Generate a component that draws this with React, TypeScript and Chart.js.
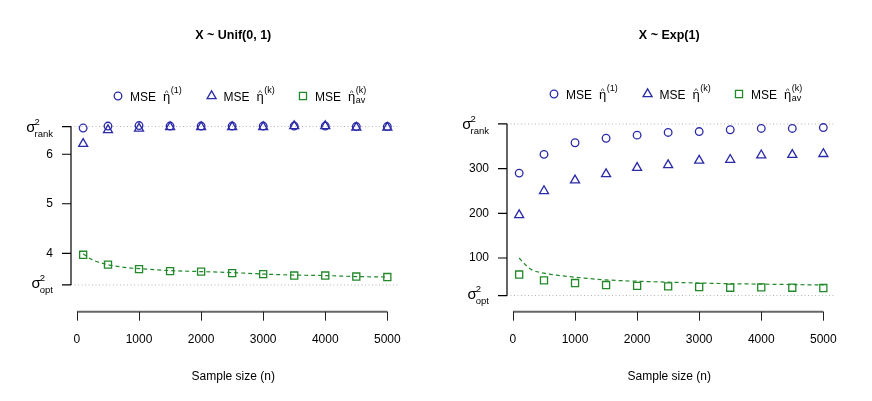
import { useEffect, useRef } from 'react';
import { Chart, registerables } from 'chart.js';
import { drawPoint } from 'chart.js/helpers';

Chart.register(...registerables);

const FONT = '"Liberation Sans", Arial, Helvetica, sans-serif';
const BLUE = '#2a2aa8';
const GREEN = '#22892a';
const GREY = '#b4b4b4';

const sampleSizes = [100, 500, 1000, 1500, 2000, 2500, 3000, 3500, 4000, 4500, 5000];
const curveSizes = [100, 200, 300, 500, 800, 1000, 1500, 2000, 2500, 3000, 3500, 4000, 4500, 5000];
const xTicks = [0, 1000, 2000, 3000, 4000, 5000];

// X ~ Unif(0, 1)
const unifRank = 6.56;
const unifOpt = 3.36;
const unifYTicks = [4, 5, 6];
const unifMse1 = [6.53, 6.57, 6.58, 6.57, 6.57, 6.57, 6.57, 6.57, 6.57, 6.56, 6.56];
const unifMseK = [6.21, 6.49, 6.52, 6.55, 6.55, 6.55, 6.55, 6.57, 6.57, 6.54, 6.54];
const unifMseAv = [3.97, 3.77, 3.68, 3.64, 3.63, 3.6, 3.58, 3.55, 3.55, 3.53, 3.52];
const unifCurve = [3.99, 3.9, 3.84, 3.77, 3.71, 3.69, 3.65, 3.63, 3.61, 3.58, 3.56, 3.55, 3.53, 3.52];

// X ~ Exp(1)
const expRank = 400;
const expOpt = 16;
const expYTicks = [100, 200, 300];
const expMse1 = [290, 332, 358, 368, 375, 381, 383, 387, 390, 390, 392];
const expMseK = [196, 250, 274, 288, 302, 308, 318, 320, 330, 331, 333];
const expMseAv = [63, 50, 44, 39.5, 37.7, 36.6, 35.1, 33.5, 34.2, 33.5, 32.8];
const expCurve = [100, 85, 74, 66, 60, 57, 51, 48, 46, 44, 42.5, 41.5, 40.5, 39.5];

const legendItems = [
  { style: 'circle', radius: 3.8, color: BLUE, sup: '(1)', sub: '' },
  { style: 'triangle', radius: 5.2, color: BLUE, sup: '(k)', sub: '' },
  { style: 'rect', radius: 5, color: GREEN, sup: '(k)', sub: 'av' },
];
const legendOffsets = [47, 140.6, 232];

const pts = (xs: number[], ys: number[]) => xs.map((x, i) => ({ x, y: ys[i] }));

function drawSigma(ctx: CanvasRenderingContext2D, xRight: number, y: number, sub: string) {
  const dy = sub === 'rank' ? 2 : 0;
  ctx.textAlign = 'left';
  ctx.textBaseline = 'alphabetic';
  ctx.font = `15px ${FONT}`;
  const ws = ctx.measureText('σ').width;
  ctx.font = `9.5px ${FONT}`;
  const wsub = Math.max(ctx.measureText(sub).width, ctx.measureText('2').width);
  const sx = xRight - wsub - ws + 1;
  ctx.font = `15px ${FONT}`;
  ctx.fillText('σ', sx, y + 3.5 + dy);
  ctx.font = `9.5px ${FONT}`;
  ctx.fillText('2', sx + ws - 1, y - 3.5 + dy);
  ctx.fillText(sub, sx + ws - 1, y + 8 + dy);
}

function drawEta(ctx: CanvasRenderingContext2D, x: number, base: number, sup: string, sub: string) {
  ctx.textAlign = 'left';
  ctx.textBaseline = 'alphabetic';
  ctx.font = `13px ${FONT}`;
  ctx.fillText('η', x, base);
  const w = ctx.measureText('η').width;
  ctx.font = `8px ${FONT}`;
  ctx.textAlign = 'center';
  ctx.fillText('^', x + w / 2, base - 6.5);
  ctx.textAlign = 'left';
  ctx.font = `9px ${FONT}`;
  ctx.fillText(sup, x + w + 0.5, base - 8);
  if (sub) ctx.fillText(sub, x + w + 0.5, base + 1.5);
}

const rPlot = {
  id: 'rPlot',
  afterDraw(chart: any, _args: any, o: any) {
    const { ctx, chartArea: ca } = chart;
    const xs = chart.scales.x;
    const ys = chart.scales.y;
    ctx.save();

    // y axis (from sigma_opt to sigma_rank)
    const yTop = ys.getPixelForValue(o.rank);
    const yBot = ys.getPixelForValue(o.opt);
    ctx.strokeStyle = '#000';
    ctx.lineWidth = 1.2;
    ctx.beginPath();
    ctx.moveTo(ca.left, yTop);
    ctx.lineTo(ca.left, yBot);
    for (const v of [o.opt, ...o.yTicks, o.rank]) {
      const p = ys.getPixelForValue(v);
      ctx.moveTo(ca.left, p);
      ctx.lineTo(ca.left - 9, p);
    }
    ctx.stroke();

    ctx.fillStyle = '#000';
    ctx.font = `12px ${FONT}`;
    ctx.textAlign = 'right';
    ctx.textBaseline = 'middle';
    for (const v of o.yTicks) ctx.fillText(String(v), ca.left - 18, ys.getPixelForValue(v));
    drawSigma(ctx, ca.left - 18, yTop, 'rank');
    drawSigma(ctx, ca.left - 18, yBot, 'opt');

    // x axis, set below the plot
    const axY = o.xAxisY;
    const x0 = xs.getPixelForValue(xTicks[0]);
    const x1 = xs.getPixelForValue(xTicks[xTicks.length - 1]);
    ctx.strokeStyle = '#666';
    ctx.lineWidth = 2;
    ctx.beginPath();
    ctx.moveTo(x0, axY);
    ctx.lineTo(x1, axY);
    ctx.stroke();
    ctx.strokeStyle = '#222';
    ctx.lineWidth = 1;
    ctx.beginPath();
    for (const t of xTicks) {
      const p = Math.round(xs.getPixelForValue(t)) + 0.5;
      ctx.moveTo(p, axY);
      ctx.lineTo(p, axY + 9);
    }
    ctx.stroke();
    ctx.font = `12px ${FONT}`;
    ctx.textAlign = 'center';
    ctx.textBaseline = 'middle';
    for (const t of xTicks) ctx.fillText(String(t), xs.getPixelForValue(t), axY + 28);

    const cx = (ca.left + ca.right) / 2;
    ctx.fillText('Sample size (n)', cx - 2, 377);

    ctx.font = `bold 12.5px ${FONT}`;
    ctx.fillText(o.title, cx - 2, 36);

    // legend
    legendItems.forEach((it, i) => {
      const mx = ca.left + legendOffsets[i];
      ctx.strokeStyle = it.color;
      ctx.fillStyle = 'rgba(0,0,0,0)';
      ctx.lineWidth = 1.3;
      drawPoint(ctx, { pointStyle: it.style, radius: it.radius, rotation: 0, borderWidth: 1.3 } as any, mx, o.legendY);
      ctx.fillStyle = '#000';
      ctx.font = `12px ${FONT}`;
      ctx.textAlign = 'left';
      ctx.textBaseline = 'alphabetic';
      ctx.fillText('MSE', mx + 12, o.legendY + 5);
      drawEta(ctx, mx + 45, o.legendY + 5, it.sup, it.sub);
    });

    ctx.restore();
  },
};

type PanelProps = {
  title: string;
  rank: number;
  opt: number;
  yTicks: number[];
  mse1: number[];
  mseK: number[];
  mseAv: number[];
  curve: number[];
  padTop: number;
  padBottom: number;
  legendY: number;
};

function Panel(p: PanelProps) {
  const ref = useRef<HTMLCanvasElement | null>(null);

  useEffect(() => {
    if (!ref.current) return;
    const first = sampleSizes[0];
    const last = sampleSizes[sampleSizes.length - 1];
    const xMin = first - 0.04 * (last - first);
    const xMax = last + 0.04 * (last - first);
    const ext = 0.04 * (p.rank - p.opt);
    const refLine = (v: number) => ({
      data: [{ x: xMin, y: v }, { x: xMax, y: v }],
      showLine: true,
      borderColor: GREY,
      borderWidth: 1,
      borderDash: [1, 2.5],
      pointRadius: 0,
      clip: false,
    });
    const marks = (values: number[], style: string, radius: number, color: string) => ({
      data: pts(sampleSizes, values),
      pointStyle: style,
      pointRadius: radius,
      borderColor: color,
      backgroundColor: 'rgba(0,0,0,0)',
      pointBorderWidth: 1.3,
      clip: false,
    });

    const chart = new Chart(ref.current, {
      type: 'scatter',
      data: {
        datasets: [
          marks(p.mse1, 'circle', 3.8, BLUE),
          marks(p.mseK, 'triangle', 5.2, BLUE),
          marks(p.mseAv, 'rect', 5, GREEN),
          {
            data: pts(curveSizes, p.curve),
            showLine: true,
            borderColor: GREEN,
            borderWidth: 1.2,
            borderDash: [4, 3],
            pointRadius: 0,
            cubicInterpolationMode: 'monotone',
            clip: false,
          },
          refLine(p.rank),
          refLine(p.opt),
        ] as any,
      },
      options: {
        responsive: false,
        animation: false,
        events: [],
        layout: { padding: { left: 71, right: 36.5, top: p.padTop, bottom: p.padBottom } },
        scales: {
          x: { type: 'linear', min: xMin, max: xMax, display: false },
          y: { type: 'linear', min: p.opt - ext, max: p.rank + ext, display: false },
        },
        plugins: {
          legend: { display: false },
          tooltip: { enabled: false },
          rPlot: {
            title: p.title,
            rank: p.rank,
            opt: p.opt,
            yTicks: p.yTicks,
            xAxisY: 311.7,
            legendY: p.legendY,
          },
        } as any,
      },
      plugins: [rPlot],
    });

    return () => {
      chart.destroy();
    };
  }, []);

  return <canvas ref={ref} width={436} height={401} style={{ display: 'block' }} />;
}

export default function App() {
  return (
    <div style={{ position: 'fixed', left: 0, top: 0, width: 872, height: 401, display: 'flex', background: '#fff' }}>
      <Panel
        title="X ~ Unif(0, 1)"
        rank={unifRank}
        opt={unifOpt}
        yTicks={unifYTicks}
        mse1={unifMse1}
        mseK={unifMseK}
        mseAv={unifMseAv}
        curve={unifCurve}
        padTop={120.2}
        padBottom={109.7}
        legendY={96}
      />
      <Panel
        title="X ~ Exp(1)"
        rank={expRank}
        opt={expOpt}
        yTicks={expYTicks}
        mse1={expMse1}
        mseK={expMseK}
        mseAv={expMseAv}
        curve={expCurve}
        padTop={117.1}
        padBottom={98.6}
        legendY={94}
      />
    </div>
  );
}
